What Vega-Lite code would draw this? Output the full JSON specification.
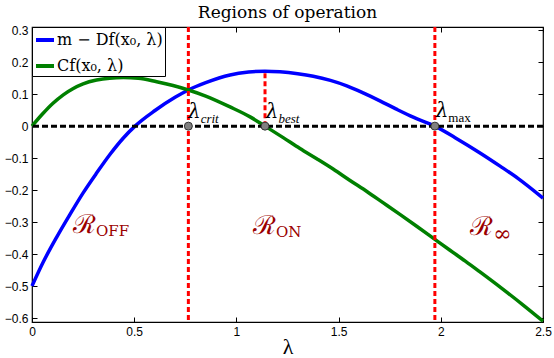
{
  "$schema": "https://vega.github.io/schema/vega-lite/v6.json",
  "width": 511,
  "height": 295,
  "autosize": {"type": "none"},
  "padding": {"left": 32, "top": 27, "right": 11, "bottom": 36},
  "background": "white",
  "title": {"text": "Regions of operation", "font": "DejaVu Serif", "fontSize": 17, "fontWeight": "normal", "color": "black", "anchor": "middle", "frame": "group", "offset": -15, "baseline": "bottom"},
  "config": {
    "view": {"stroke": "black", "strokeWidth": 1.2},
    "axis": {"domain": false, "grid": false, "tickColor": "black", "tickSize": -5, "tickWidth": 1, "labelFont": "Liberation Sans", "labelFontSize": 12, "labelColor": "black", "labelPadding": 9, "labelFlush": false, "labelOverlap": false}
  },
  "resolve": {"axis": {"x": "independent", "y": "independent"}},
  "datasets": {
    "curves": [
      {"s": "m − Df(x₀, λ)", "lam": 0, "v": -0.5},
      {"s": "m − Df(x₀, λ)", "lam": 0.055, "v": -0.425},
      {"s": "m − Df(x₀, λ)", "lam": 0.121, "v": -0.347},
      {"s": "m − Df(x₀, λ)", "lam": 0.186, "v": -0.276},
      {"s": "m − Df(x₀, λ)", "lam": 0.251, "v": -0.208},
      {"s": "m − Df(x₀, λ)", "lam": 0.317, "v": -0.146},
      {"s": "m − Df(x₀, λ)", "lam": 0.382, "v": -0.088},
      {"s": "m − Df(x₀, λ)", "lam": 0.447, "v": -0.037},
      {"s": "m − Df(x₀, λ)", "lam": 0.504, "v": 0},
      {"s": "m − Df(x₀, λ)", "lam": 0.6, "v": 0.048},
      {"s": "m − Df(x₀, λ)", "lam": 0.7, "v": 0.09},
      {"s": "m − Df(x₀, λ)", "lam": 0.765, "v": 0.113},
      {"s": "m − Df(x₀, λ)", "lam": 0.85, "v": 0.136},
      {"s": "m − Df(x₀, λ)", "lam": 0.969, "v": 0.16},
      {"s": "m − Df(x₀, λ)", "lam": 1.06, "v": 0.169},
      {"s": "m − Df(x₀, λ)", "lam": 1.14, "v": 0.172},
      {"s": "m − Df(x₀, λ)", "lam": 1.213, "v": 0.17},
      {"s": "m − Df(x₀, λ)", "lam": 1.3, "v": 0.164},
      {"s": "m − Df(x₀, λ)", "lam": 1.376, "v": 0.156},
      {"s": "m − Df(x₀, λ)", "lam": 1.46, "v": 0.143},
      {"s": "m − Df(x₀, λ)", "lam": 1.54, "v": 0.126},
      {"s": "m − Df(x₀, λ)", "lam": 1.62, "v": 0.104},
      {"s": "m − Df(x₀, λ)", "lam": 1.702, "v": 0.079},
      {"s": "m − Df(x₀, λ)", "lam": 1.78, "v": 0.054},
      {"s": "m − Df(x₀, λ)", "lam": 1.865, "v": 0.028},
      {"s": "m − Df(x₀, λ)", "lam": 1.971, "v": 0},
      {"s": "m − Df(x₀, λ)", "lam": 2.07, "v": -0.036},
      {"s": "m − Df(x₀, λ)", "lam": 2.19, "v": -0.083},
      {"s": "m − Df(x₀, λ)", "lam": 2.29, "v": -0.125},
      {"s": "m − Df(x₀, λ)", "lam": 2.379, "v": -0.164},
      {"s": "m − Df(x₀, λ)", "lam": 2.5, "v": -0.225},
      {"s": "Cf(x₀, λ)", "lam": 0, "v": 0},
      {"s": "Cf(x₀, λ)", "lam": 0.05, "v": 0.037},
      {"s": "Cf(x₀, λ)", "lam": 0.1, "v": 0.07},
      {"s": "Cf(x₀, λ)", "lam": 0.153, "v": 0.098},
      {"s": "Cf(x₀, λ)", "lam": 0.2, "v": 0.117},
      {"s": "Cf(x₀, λ)", "lam": 0.25, "v": 0.132},
      {"s": "Cf(x₀, λ)", "lam": 0.316, "v": 0.144},
      {"s": "Cf(x₀, λ)", "lam": 0.38, "v": 0.15},
      {"s": "Cf(x₀, λ)", "lam": 0.447, "v": 0.152},
      {"s": "Cf(x₀, λ)", "lam": 0.52, "v": 0.15},
      {"s": "Cf(x₀, λ)", "lam": 0.61, "v": 0.139},
      {"s": "Cf(x₀, λ)", "lam": 0.69, "v": 0.127},
      {"s": "Cf(x₀, λ)", "lam": 0.765, "v": 0.113},
      {"s": "Cf(x₀, λ)", "lam": 0.85, "v": 0.094},
      {"s": "Cf(x₀, λ)", "lam": 0.969, "v": 0.06},
      {"s": "Cf(x₀, λ)", "lam": 1.067, "v": 0.029},
      {"s": "Cf(x₀, λ)", "lam": 1.14, "v": 0},
      {"s": "Cf(x₀, λ)", "lam": 1.229, "v": -0.036},
      {"s": "Cf(x₀, λ)", "lam": 1.311, "v": -0.07},
      {"s": "Cf(x₀, λ)", "lam": 1.393, "v": -0.102},
      {"s": "Cf(x₀, λ)", "lam": 1.475, "v": -0.135},
      {"s": "Cf(x₀, λ)", "lam": 1.556, "v": -0.17},
      {"s": "Cf(x₀, λ)", "lam": 1.64, "v": -0.205},
      {"s": "Cf(x₀, λ)", "lam": 1.719, "v": -0.24},
      {"s": "Cf(x₀, λ)", "lam": 1.8, "v": -0.276},
      {"s": "Cf(x₀, λ)", "lam": 1.882, "v": -0.313},
      {"s": "Cf(x₀, λ)", "lam": 1.971, "v": -0.354},
      {"s": "Cf(x₀, λ)", "lam": 2.045, "v": -0.388},
      {"s": "Cf(x₀, λ)", "lam": 2.12, "v": -0.422},
      {"s": "Cf(x₀, λ)", "lam": 2.19, "v": -0.455},
      {"s": "Cf(x₀, λ)", "lam": 2.3, "v": -0.508},
      {"s": "Cf(x₀, λ)", "lam": 2.4, "v": -0.558},
      {"s": "Cf(x₀, λ)", "lam": 2.5, "v": -0.61}
    ],
    "fullLines": [{"lam": 0.765}, {"lam": 1.971}],
    "bestLine": [{"lam": 1.14, "v": 0, "v2": 0.172}],
    "zeroLine": [{"v": 0}],
    "markers": [{"lam": 0.765, "v": 0}, {"lam": 1.14, "v": 0}, {"lam": 1.971, "v": 0}],
    "lamLabels": [
      {"lam": 0.825, "v": 0.025, "t": "λ", "sub": "crit"},
      {"lam": 1.206, "v": 0.025, "t": "λ", "sub": "best"},
      {"lam": 2.037, "v": 0.028, "t": "λ", "sub": "max"}
    ],
    "regions": [
      {"lam": 0.313, "v": -0.333, "t": "ℛ", "sub": "OFF"},
      {"lam": 1.194, "v": -0.336, "t": "ℛ", "sub": "ON"},
      {"lam": 2.256, "v": -0.34, "t": "ℛ", "sub": "∞"}
    ]
  },
  "layer": [
    {
      "data": {"name": "curves"},
      "mark": {"type": "line", "strokeWidth": 3.5, "interpolate": "monotone"},
      "encoding": {
        "x": {"field": "lam", "type": "quantitative", "scale": {"domain": [0, 2.5], "nice": false, "zero": false},
              "axis": {"orient": "bottom", "values": [0, 0.5, 1, 1.5, 2, 2.5], "format": ".1~f", "title": "λ", "titleFont": "Liberation Serif", "titleFontSize": 22, "titleFontWeight": "normal", "titleColor": "black", "titlePadding": -1}},
        "y": {"field": "v", "type": "quantitative", "scale": {"domain": [-0.6125, 0.31], "nice": false, "zero": false},
              "axis": {"orient": "left", "values": [-0.6, -0.5, -0.4, -0.3, -0.2, -0.1, 0, 0.1, 0.2, 0.3], "format": ".1~f", "title": null}},
        "color": {"field": "s", "type": "nominal",
                  "scale": {"domain": ["m − Df(x₀, λ)", "Cf(x₀, λ)"], "range": ["#0000ff", "#008000"]},
                  "legend": {"orient": "top-left", "offset": 0, "title": null, "fillColor": "white", "strokeColor": "black", "padding": 2, "symbolType": "stroke", "symbolStrokeWidth": 4, "symbolSize": 324, "labelFont": "DejaVu Serif", "labelFontSize": 16, "labelColor": "black", "rowPadding": 7, "labelOffset": 1, "labelLimit": 300}}
      }
    },
    {
      "data": {"name": "fullLines"},
      "mark": {"type": "rule", "color": "#ff0000", "strokeWidth": 3, "strokeDash": [5, 3]},
      "encoding": {"x": {"field": "lam", "type": "quantitative", "axis": null}}
    },
    {
      "data": {"name": "bestLine"},
      "mark": {"type": "rule", "color": "#ff0000", "strokeWidth": 3, "strokeDash": [5, 3]},
      "encoding": {"x": {"field": "lam", "type": "quantitative", "axis": null}, "y": {"field": "v", "type": "quantitative", "axis": null}, "y2": {"field": "v2"}}
    },
    {
      "data": {"name": "zeroLine"},
      "mark": {"type": "rule", "color": "black", "strokeWidth": 3, "strokeDash": [6, 3]},
      "encoding": {"y": {"field": "v", "type": "quantitative", "axis": null}}
    },
    {
      "data": {"name": "markers"},
      "mark": {"type": "point", "filled": true, "fill": "#808080", "stroke": "#333333", "strokeWidth": 1, "size": 64, "opacity": 1},
      "encoding": {
        "x": {"field": "lam", "type": "quantitative", "axis": {"orient": "top", "labels": false, "title": null, "values": [0, 0.5, 1, 1.5, 2, 2.5]}},
        "y": {"field": "v", "type": "quantitative", "axis": {"orient": "right", "labels": false, "title": null, "values": [-0.6, -0.5, -0.4, -0.3, -0.2, -0.1, 0, 0.1, 0.2, 0.3]}}
      }
    },
    {
      "data": {"name": "lamLabels"},
      "mark": {"type": "text", "align": "right", "baseline": "alphabetic", "font": "DejaVu Serif", "fontStyle": "italic", "fontSize": 20, "color": "black"},
      "encoding": {"x": {"field": "lam", "type": "quantitative", "axis": null}, "y": {"field": "v", "type": "quantitative", "axis": null}, "text": {"field": "t"}}
    },
    {
      "data": {"name": "lamLabels"},
      "transform": [{"filter": "datum.sub != 'max'"}],
      "mark": {"type": "text", "align": "left", "baseline": "alphabetic", "font": "Liberation Serif", "fontStyle": "italic", "fontSize": 13, "color": "black", "dy": 5},
      "encoding": {"x": {"field": "lam", "type": "quantitative", "axis": null}, "y": {"field": "v", "type": "quantitative", "axis": null}, "text": {"field": "sub"}}
    },
    {
      "data": {"name": "lamLabels"},
      "transform": [{"filter": "datum.sub == 'max'"}],
      "mark": {"type": "text", "align": "left", "baseline": "alphabetic", "font": "Liberation Serif", "fontSize": 13, "color": "black", "dy": 5},
      "encoding": {"x": {"field": "lam", "type": "quantitative", "axis": null}, "y": {"field": "v", "type": "quantitative", "axis": null}, "text": {"field": "sub"}}
    },
    {
      "data": {"name": "regions"},
      "mark": {"type": "text", "align": "right", "baseline": "alphabetic", "font": "DejaVu Serif", "fontSize": 26, "color": "#9b0000"},
      "encoding": {"x": {"field": "lam", "type": "quantitative", "axis": null}, "y": {"field": "v", "type": "quantitative", "axis": null}, "text": {"field": "t"}}
    },
    {
      "data": {"name": "regions"},
      "transform": [{"filter": "datum.sub != '∞'"}],
      "mark": {"type": "text", "align": "left", "baseline": "alphabetic", "font": "DejaVu Serif", "fontSize": 15, "color": "#9b0000", "dy": 3},
      "encoding": {"x": {"field": "lam", "type": "quantitative", "axis": null}, "y": {"field": "v", "type": "quantitative", "axis": null}, "text": {"field": "sub"}}
    },
    {
      "data": {"name": "regions"},
      "transform": [{"filter": "datum.sub == '∞'"}],
      "mark": {"type": "text", "align": "left", "baseline": "alphabetic", "font": "DejaVu Serif", "fontSize": 22, "color": "#9b0000", "dy": 6},
      "encoding": {"x": {"field": "lam", "type": "quantitative", "axis": null}, "y": {"field": "v", "type": "quantitative", "axis": null}, "text": {"field": "sub"}}
    }
  ]
}
